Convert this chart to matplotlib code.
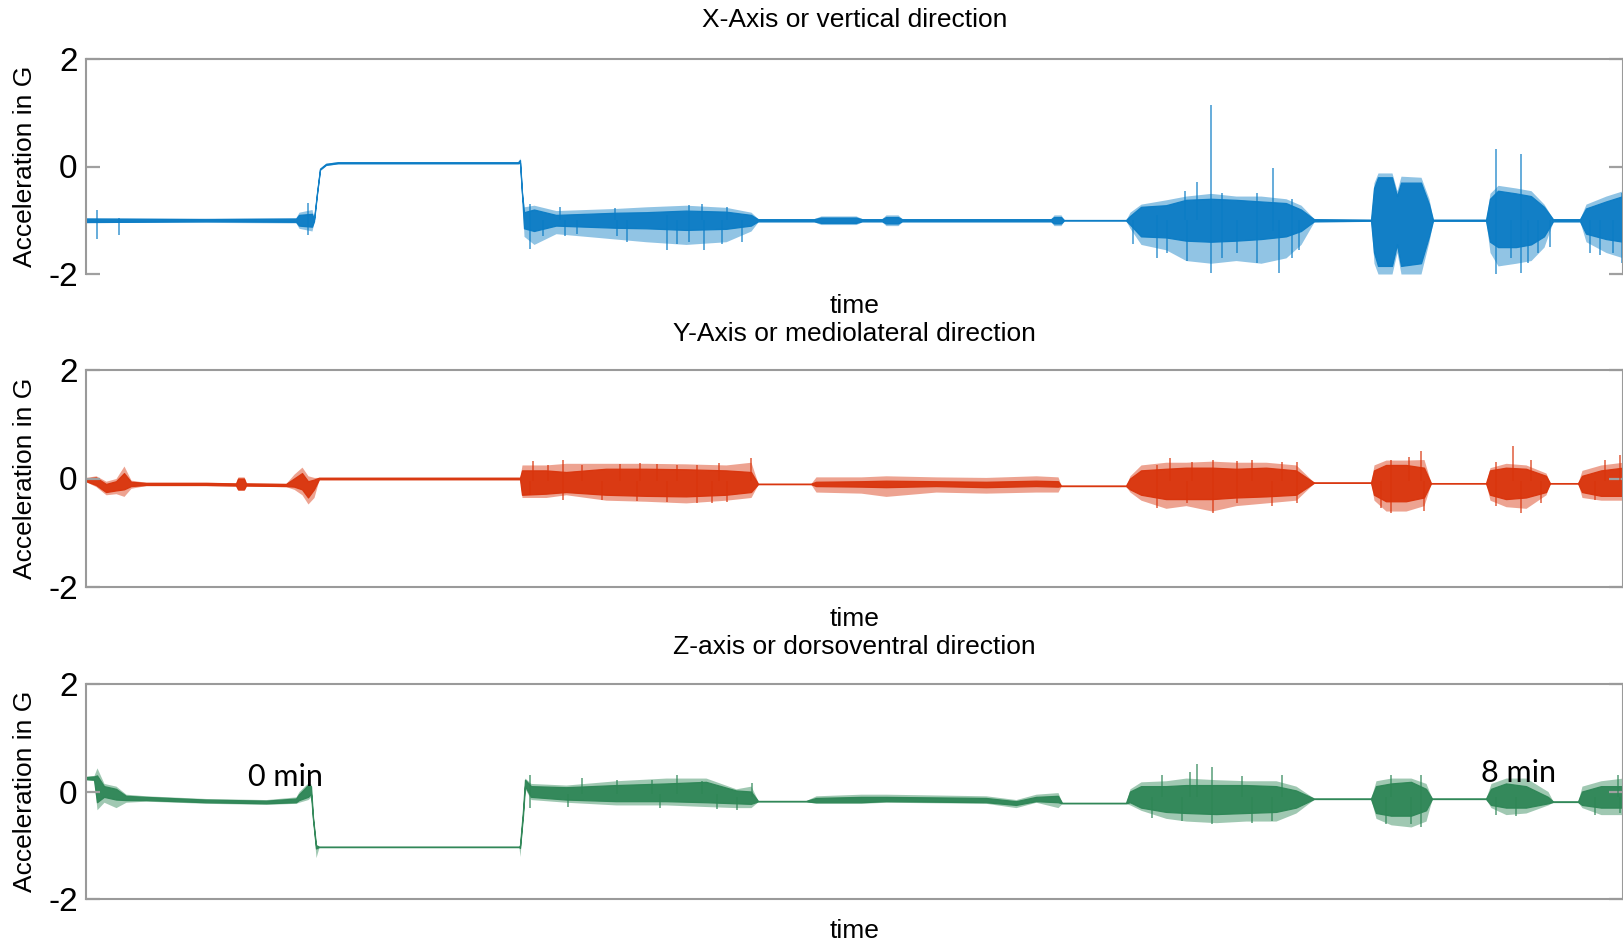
import numpy as np
import matplotlib
matplotlib.use("Agg")
import matplotlib.pyplot as plt

# ---------------- data ----------------
# time axis in arbitrary units (0 .. 1537), envelopes of the acceleration in G
# per knot: outer-low, core-low, core-high, outer-high
x_t = [0, 40, 120, 210, 213, 226, 228, 231, 234, 240, 252, 432, 434, 436, 438, 448, 470, 500, 530, 560,
       600, 640, 665, 672, 728, 735, 770, 776, 796, 800, 812, 816, 965, 968, 975, 978, 1040, 1044, 1055,
       1080, 1100, 1125, 1150, 1175, 1200, 1215, 1228, 1285, 1288, 1292, 1306, 1311, 1315, 1335, 1343,
       1347, 1400, 1404, 1412, 1430, 1445, 1458, 1467, 1494, 1500, 1520, 1537]
x_lo2 = [-1.05, -1.04, -1.04, -1.05, -1.15, -1.2, -1.03, -0.52, -0.07, 0.02, 0.05, 0.05, 0.05, -0.52, -1.3,
         -1.45, -1.25, -1.3, -1.35, -1.4, -1.45, -1.4, -1.2, -1.03, -1.03, -1.08, -1.08, -1.03, -1.03, -1.1,
         -1.1, -1.03, -1.03, -1.1, -1.1, -1.01, -1.01, -1.15, -1.45, -1.55, -1.75, -1.8, -1.75, -1.8, -1.7,
         -1.45, -1.03, -1.02, -1.8, -2.0, -2.0, -1.6, -2.0, -2.0, -1.4, -1.02, -1.02, -1.6, -1.85, -1.8,
         -1.75, -1.5, -1.03, -1.03, -1.4, -1.6, -1.7]
x_lo = [-1.03, -1.03, -1.02, -1.03, -1.1, -1.12, -1.02, -0.51, -0.06, 0.03, 0.06, 0.06, 0.07, -0.51, -1.15,
        -1.2, -1.1, -1.12, -1.14, -1.15, -1.18, -1.16, -1.1, -1.02, -1.02, -1.05, -1.05, -1.02, -1.02, -1.06,
        -1.06, -1.02, -1.02, -1.06, -1.06, -1.005, -1.005, -1.08, -1.3, -1.32, -1.38, -1.4, -1.38, -1.35,
        -1.3, -1.2, -1.02, -1.01, -1.6, -1.85, -1.85, -1.45, -1.85, -1.8, -1.3, -1.01, -1.01, -1.4, -1.5,
        -1.5, -1.45, -1.3, -1.02, -1.02, -1.25, -1.35, -1.4]
x_hi = [-0.97, -0.97, -0.98, -0.97, -0.9, -0.88, -0.98, -0.49, -0.04, 0.05, 0.08, 0.08, 0.12, -0.49, -0.85,
        -0.8, -0.9, -0.88, -0.86, -0.85, -0.82, -0.84, -0.9, -0.98, -0.98, -0.95, -0.95, -0.98, -0.98, -0.94,
        -0.94, -0.98, -0.98, -0.94, -0.94, -0.995, -0.995, -0.92, -0.75, -0.72, -0.62, -0.6, -0.62, -0.65,
        -0.68, -0.8, -0.98, -0.99, -0.4, -0.2, -0.2, -0.55, -0.3, -0.3, -0.7, -0.99, -0.99, -0.6, -0.45,
        -0.5, -0.55, -0.75, -0.98, -0.98, -0.78, -0.65, -0.55]
x_hi2 = [-0.95, -0.96, -0.96, -0.95, -0.85, -0.8, -0.97, -0.48, -0.03, 0.06, 0.09, 0.09, 0.16, -0.48, -0.75,
         -0.72, -0.82, -0.8, -0.78, -0.75, -0.72, -0.76, -0.85, -0.97, -0.97, -0.92, -0.92, -0.97, -0.97,
         -0.9, -0.9, -0.97, -0.97, -0.9, -0.9, -0.99, -0.99, -0.85, -0.7, -0.62, -0.55, -0.5, -0.55, -0.55,
         -0.6, -0.72, -0.97, -0.98, -0.3, -0.12, -0.12, -0.45, -0.18, -0.2, -0.6, -0.98, -0.98, -0.5, -0.35,
         -0.4, -0.45, -0.7, -0.97, -0.97, -0.7, -0.55, -0.45]
x_spike_t = [11, 33, 222, 444, 457, 474, 479, 491, 529, 531, 541, 581, 591, 603, 616, 618, 636, 641, 656,
             1047, 1071, 1081, 1099, 1101, 1111, 1125, 1136, 1151, 1171, 1187, 1193, 1206, 1213,
             1410, 1425, 1435, 1442, 1452, 1464, 1504, 1514, 1527, 1536]
x_spike_lo = [-1.35, -1.27, -1.27, -1.54, -1.3, -1.0, -1.3, -1.25, -1.0, -1.3, -1.4, -1.55, -1.45, -1.4,
              -1.0, -1.55, -1.45, -1.0, -1.4,
              -1.45, -1.7, -1.6, -1.0, -1.75, -1.0, -1.98, -1.7, -1.6, -1.8, -1.2, -1.98, -1.7, -1.55,
              -2.0, -1.7, -1.98, -1.8, -1.6, -1.5, -1.6, -1.65, -1.6, -1.8]
x_spike_hi = [-0.81, -0.95, -0.68, -0.70, -1.0, -0.75, -1.0, -1.0, -0.78, -1.0, -1.0, -0.9, -1.0, -0.72,
              -0.7, -1.0, -1.0, -0.75, -1.0,
              -1.0, -0.9, -1.0, -0.45, -1.0, -0.29, 1.14, -0.5, -1.0, -0.5, -0.03, -1.0, -0.6, -1.0,
              0.33, -1.0, 0.23, -1.0, -1.0, -1.0, -1.0, -1.0, -1.0, -0.5]

y_t = [0, 10, 20, 30, 38, 45, 60, 120, 150, 152, 158, 160, 200, 208, 216, 222, 228, 233, 434, 436, 460,
       480, 520, 560, 600, 640, 665, 672, 725, 730, 775, 800, 850, 900, 950, 972, 975, 1040, 1044, 1055,
       1080, 1100, 1126, 1150, 1180, 1210, 1228, 1285, 1288, 1300, 1320, 1338, 1345, 1400, 1404, 1420,
       1440, 1460, 1464, 1492, 1496, 1515, 1537]
y_lo2 = [-0.06, -0.15, -0.3, -0.28, -0.33, -0.18, -0.13, -0.13, -0.14, -0.22, -0.22, -0.14, -0.15, -0.2,
         -0.3, -0.47, -0.35, -0.02, -0.02, -0.35, -0.35, -0.3, -0.4, -0.42, -0.45, -0.4, -0.35, -0.11, -0.11,
         -0.25, -0.27, -0.33, -0.25, -0.27, -0.25, -0.25, -0.145, -0.145, -0.25, -0.4, -0.55, -0.5, -0.6,
         -0.5, -0.45, -0.4, -0.085, -0.085, -0.4, -0.6, -0.6, -0.5, -0.095, -0.095, -0.4, -0.52, -0.55,
         -0.3, -0.095, -0.095, -0.35, -0.4, -0.4]
y_lo = [-0.05, -0.12, -0.25, -0.22, -0.2, -0.14, -0.12, -0.12, -0.13, -0.2, -0.2, -0.13, -0.14, -0.15,
        -0.2, -0.35, -0.2, -0.015, -0.015, -0.3, -0.28, -0.25, -0.3, -0.32, -0.33, -0.3, -0.25, -0.105,
        -0.105, -0.14, -0.15, -0.16, -0.14, -0.16, -0.14, -0.15, -0.14, -0.14, -0.2, -0.3, -0.38, -0.38,
        -0.38, -0.35, -0.33, -0.3, -0.08, -0.08, -0.3, -0.42, -0.42, -0.35, -0.09, -0.09, -0.3, -0.38, -0.35,
        -0.25, -0.09, -0.09, -0.25, -0.32, -0.32]
y_hi = [0.0, 0.02, -0.1, -0.05, 0.1, -0.06, -0.08, -0.08, -0.09, 0.0, 0.0, -0.09, -0.1, 0.0, 0.1, -0.05,
        -0.02, 0.015, 0.015, 0.15, 0.15, 0.12, 0.18, 0.18, 0.17, 0.15, 0.12, -0.095, -0.095, -0.06, -0.05,
        -0.04, -0.05, -0.06, -0.04, -0.05, -0.13, -0.13, 0.0, 0.15, 0.18, 0.2, 0.2, 0.18, 0.2, 0.15, -0.075,
        -0.075, 0.15, 0.25, 0.25, 0.2, -0.085, -0.085, 0.15, 0.2, 0.18, 0.05, -0.085, -0.085, 0.05, 0.15,
        0.2]
y_hi2 = [0.02, 0.05, -0.05, 0.0, 0.23, -0.03, -0.07, -0.07, -0.08, 0.03, 0.03, -0.08, -0.09, 0.08, 0.21,
         0.05, 0.02, 0.02, 0.02, 0.25, 0.25, 0.28, 0.28, 0.28, 0.27, 0.25, 0.3, -0.09, -0.09, 0.03, 0.03,
         0.05, 0.03, 0.02, 0.05, 0.03, -0.125, -0.125, 0.05, 0.25, 0.3, 0.3, 0.32, 0.3, 0.3, 0.25, -0.07,
         -0.07, 0.25, 0.34, 0.34, 0.35, -0.08, -0.08, 0.2, 0.28, 0.25, 0.1, -0.08, -0.08, 0.15, 0.25, 0.3]
y_spike_t = [444, 447, 462, 477, 496, 516, 534, 551, 554, 571, 581, 591, 611, 626, 633, 641, 665,
             1071, 1084, 1101, 1106, 1127, 1151, 1166, 1186, 1196, 1211,
             1295, 1305, 1323, 1335, 1338, 1410, 1427, 1435, 1445, 1455, 1509, 1519, 1534, 1537]
y_spike_lo = [-0.3, -0.05, -0.05, -0.4, -0.05, -0.4, -0.05, -0.42, -0.05, -0.05, -0.43, -0.05, -0.45, -0.45,
              -0.05, -0.43, -0.05,
              -0.55, -0.05, -0.45, -0.05, -0.64, -0.45, -0.05, -0.5, -0.05, -0.45,
              -0.55, -0.64, -0.05, -0.05, -0.6, -0.5, -0.05, -0.64, -0.05, -0.45, -0.4, -0.05, -0.05, -0.35]
y_spike_hi = [-0.05, 0.32, 0.25, 0.34, 0.25, -0.05, 0.27, -0.05, 0.28, 0.27, -0.05, 0.25, 0.25, -0.05,
              0.28, -0.05, 0.38,
              0.25, 0.37, -0.05, 0.3, 0.35, 0.33, 0.35, -0.05, 0.3, 0.3,
              -0.05, 0.35, 0.4, 0.5, -0.05, 0.3, 0.6, -0.05, 0.35, -0.05, -0.05, 0.35, 0.43, -0.05]

z_t = [0, 8, 11, 18, 30, 40, 60, 120, 180, 210, 213, 222, 225, 227, 230, 233, 433, 434, 437, 439, 445,
       480, 530, 580, 620, 650, 665, 672, 720, 730, 775, 800, 900, 930, 950, 972, 976, 1040, 1044, 1055,
       1080, 1100, 1130, 1160, 1190, 1210, 1228, 1285, 1290, 1305, 1325, 1340, 1346, 1400, 1405, 1420,
       1440, 1462, 1467, 1492, 1496, 1515, 1537]
z_lo2 = [0.22, 0.2, -0.34, -0.2, -0.3, -0.2, -0.18, -0.22, -0.24, -0.22, -0.2, -0.15, -0.1, -0.55, -1.23,
         -1.04, -1.04, -1.21, -0.5, 0.05, -0.15, -0.2, -0.25, -0.25, -0.28, -0.3, -0.3, -0.19, -0.19, -0.22,
         -0.22, -0.2, -0.22, -0.3, -0.2, -0.3, -0.225, -0.225, -0.25, -0.35, -0.5, -0.55, -0.58, -0.55,
         -0.55, -0.4, -0.145, -0.145, -0.5, -0.62, -0.66, -0.55, -0.145, -0.145, -0.3, -0.43, -0.4, -0.25,
         -0.2, -0.2, -0.3, -0.43, -0.43]
z_lo = [0.23, 0.22, -0.2, -0.1, -0.15, -0.16, -0.16, -0.2, -0.22, -0.2, -0.16, -0.1, -0.05, -0.52, -1.06,
        -1.035, -1.035, -1.05, -0.45, 0.1, -0.1, -0.15, -0.18, -0.18, -0.2, -0.22, -0.23, -0.185, -0.185,
        -0.2, -0.2, -0.18, -0.2, -0.25, -0.18, -0.2, -0.22, -0.22, -0.2, -0.3, -0.38, -0.4, -0.42, -0.4,
        -0.38, -0.3, -0.14, -0.14, -0.4, -0.45, -0.45, -0.35, -0.14, -0.14, -0.25, -0.3, -0.3, -0.22, -0.195,
        -0.195, -0.25, -0.3, -0.3]
z_hi = [0.27, 0.28, 0.3, 0.1, 0.05, -0.08, -0.1, -0.15, -0.17, -0.13, -0.05, 0.12, 0.1, -0.48, -1.0,
        -1.025, -1.025, -1.0, -0.35, 0.22, 0.1, 0.08, 0.12, 0.15, 0.18, 0.02, 0.0, -0.175, -0.175, -0.12,
        -0.1, -0.1, -0.12, -0.18, -0.1, -0.08, -0.21, -0.21, 0.0, 0.1, 0.1, 0.12, 0.12, 0.12, 0.1, 0.02,
        -0.13, -0.13, 0.1, 0.15, 0.18, 0.05, -0.13, -0.13, 0.05, 0.15, 0.1, -0.1, -0.185, -0.185, 0.0, 0.1,
        0.1]
z_hi2 = [0.28, 0.3, 0.44, 0.15, 0.1, -0.05, -0.08, -0.13, -0.15, -0.1, 0.0, 0.16, 0.14, -0.45, -0.98,
         -1.02, -1.02, -0.98, -0.3, 0.25, 0.15, 0.12, 0.2, 0.25, 0.25, 0.05, 0.1, -0.17, -0.17, -0.08, -0.05,
         -0.05, -0.08, -0.15, -0.05, -0.02, -0.205, -0.205, 0.05, 0.18, 0.2, 0.25, 0.22, 0.2, 0.2, 0.1,
         -0.125, -0.125, 0.2, 0.25, 0.25, 0.15, -0.125, -0.125, 0.15, 0.25, 0.25, 0.0, -0.18, -0.18, 0.1, 0.2,
         0.25]
z_spike_t = [444, 482, 496, 531, 566, 574, 591, 616, 631, 651, 666,
             1066, 1076, 1096, 1104, 1111, 1126, 1156, 1166, 1186, 1196,
             1300, 1305, 1325, 1335, 1410, 1430, 1509, 1532, 1534]
z_spike_lo = [-0.3, -0.28, -0.05, -0.05, -0.05, -0.3, -0.05, -0.05, -0.33, -0.35, -0.1,
              -0.5, -0.1, -0.55, -0.1, -0.1, -0.6, -0.1, -0.58, -0.55, -0.1,
              -0.6, -0.1, -0.6, -0.66, -0.43, -0.45, -0.43, -0.1, -0.4]
z_spike_hi = [0.3, -0.05, 0.25, 0.22, 0.22, -0.05, 0.31, 0.2, -0.05, -0.1, 0.15,
              -0.1, 0.3, -0.1, 0.37, 0.51, 0.45, 0.28, -0.1, -0.1, 0.3,
              -0.1, 0.3, -0.1, 0.31, -0.1, -0.1, -0.1, 0.3, -0.1]

titles = ["X-Axis or vertical direction", "Y-Axis or mediolateral direction", "Z-axis or dorsoventral direction"]
colors = ["#0b7cc5", "#d9340c", "#2e8656"]
y_ticks = [-2, 0, 2]
y_label = "Acceleration in G"
x_label = "time"
annotations = [("0 min", 199, 0.27), ("8 min", 1433, 0.34)]
t_range = (0, 1537)

# ---------------- figure ----------------
plt.rcParams["font.family"] = ["Liberation Sans", "DejaVu Sans"]
plt.rcParams["axes.unicode_minus"] = False
W, H = 1624, 944
fig = plt.figure(figsize=(W / 100, H / 100), dpi=100)

panel_px = [(59, 274), (370, 587), (684, 899)]     # top, bottom pixel rows
title_y = [20, 334, 647]
xlabel_y = [306, 619, 931]
left_px, right_px = 86, 1623

series = [
    (x_t, x_lo2, x_lo, x_hi, x_hi2, x_spike_t, x_spike_lo, x_spike_hi),
    (y_t, y_lo2, y_lo, y_hi, y_hi2, y_spike_t, y_spike_lo, y_spike_hi),
    (z_t, z_lo2, z_lo, z_hi, z_hi2, z_spike_t, z_spike_lo, z_spike_hi),
]

axes = []
for i, (t, lo2, lo, hi, hi2, st, slo, shi) in enumerate(series):
    top, bot = panel_px[i]
    ax = fig.add_axes([left_px / W, 1 - bot / H, (right_px - left_px) / W, (bot - top) / H])
    c = colors[i]
    ax.fill_between(t, lo2, hi2, color=c, alpha=0.45, linewidth=0)
    ax.fill_between(t, lo, hi, facecolor=c, edgecolor=c, alpha=0.95, linewidth=0.9)
    ax.vlines(st, slo, shi, color=c, linewidth=1.1, alpha=0.8)
    ax.set_xlim(*t_range)
    ax.set_ylim(-2, 2)
    ax.set_yticks(y_ticks)
    ax.set_xticks([])
    ax.tick_params(axis="y", direction="in", length=10, width=1.6, color="#a0a0a0",
                   labelsize=24, pad=6, right=True, labelcolor="black")
    for s in ax.spines.values():
        s.set_color("#9a9a9a")
        s.set_linewidth(1.5)
    if i == 0:
        ax.spines["bottom"].set_visible(False)
    ax.set_ylabel(y_label, fontsize=19)
    ax.yaxis.set_label_coords((37 - left_px) / (right_px - left_px), 0.5)
    fig.text((left_px + right_px) / 2 / W, 1 - title_y[i] / H, titles[i], ha="center", va="center", fontsize=19)
    fig.text((left_px + right_px) / 2 / W, 1 - xlabel_y[i] / H, x_label, ha="center", va="center", fontsize=19)
    axes.append(ax)

for txt, tx, ty in annotations:
    axes[2].text(tx, ty, txt, ha="center", va="center", fontsize=22, family=["Lato", "DejaVu Sans"],
                 color="black", zorder=5)

fig.savefig("out.png", dpi=100)
